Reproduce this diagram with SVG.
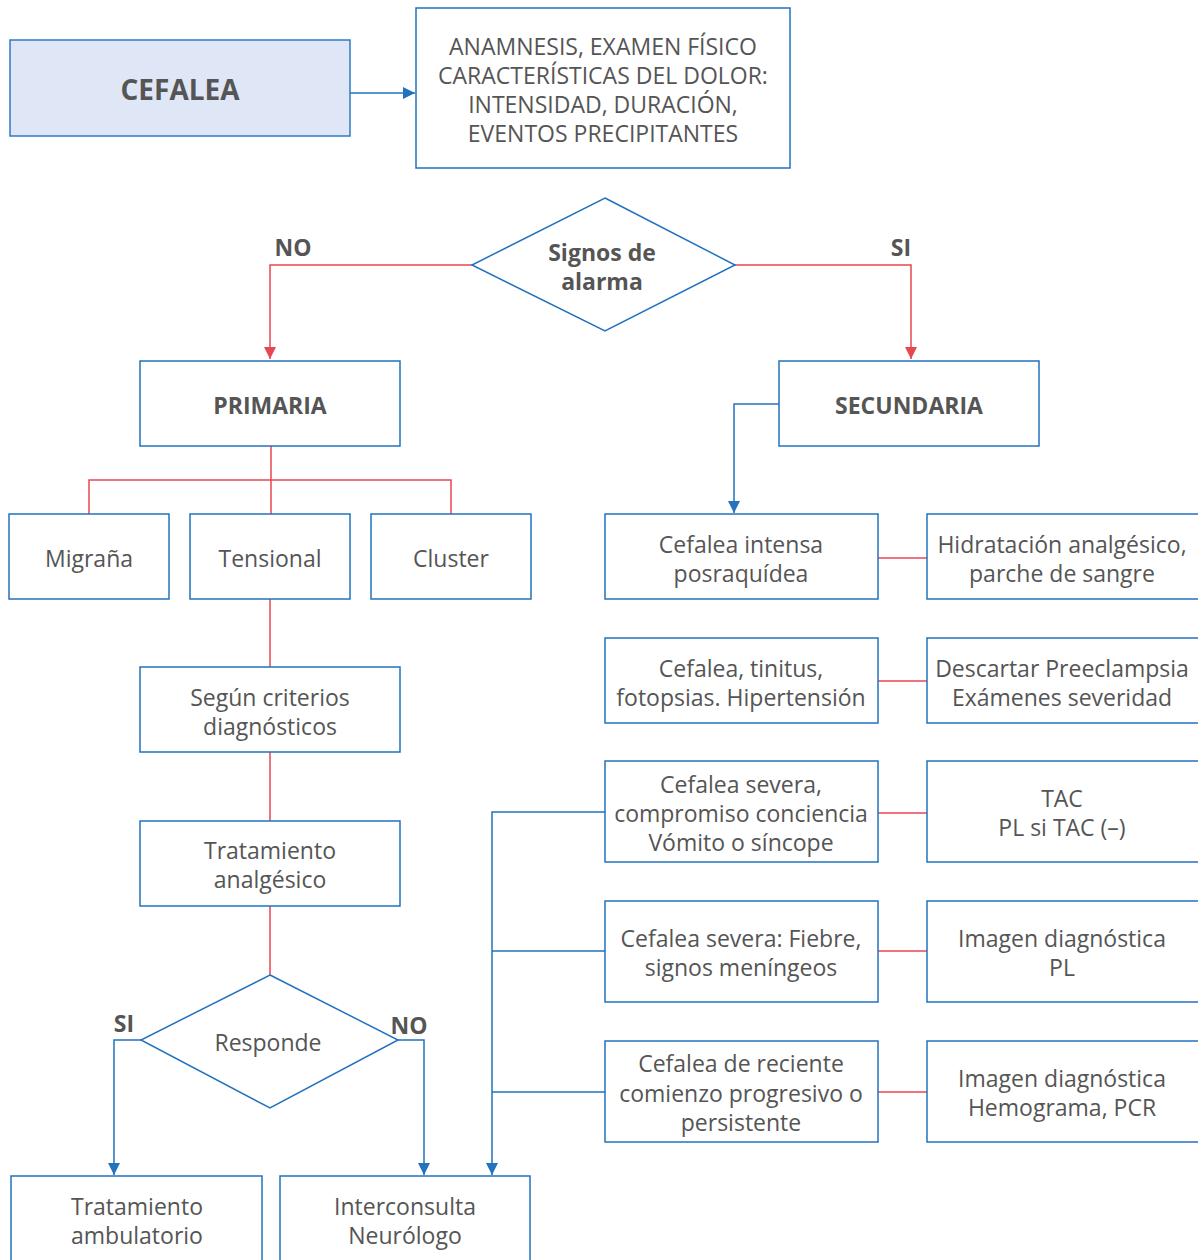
<svg xmlns="http://www.w3.org/2000/svg" width="1198" height="1260" viewBox="0 0 1198 1260">
  <defs>
    <style>
      .box { fill: #ffffff; stroke: #2272be; stroke-width: 1.5; }
      .main { fill: #dfe6f5; stroke: #2f7bc2; stroke-width: 1.5; }
      .dia { fill: #ffffff; stroke: #2272be; stroke-width: 1.5; }
      .blue { fill: none; stroke: #2272be; stroke-width: 1.5; }
      .red { fill: none; stroke: #e8474f; stroke-width: 1.5; }
      text { font-family: "Open Sans", "Noto Sans", "Liberation Sans", sans-serif; fill: #555555; text-anchor: middle; dominant-baseline: central; }
      .t { font-size: 23px; font-weight: 400; }
      .b { font-size: 23px; font-weight: 700; }
      .big { font-size: 28px; font-weight: 700; }
    </style>
    <marker id="ab" viewBox="0 0 12 12" refX="12" refY="6" markerWidth="12" markerHeight="12" markerUnits="userSpaceOnUse" orient="auto">
      <path d="M0,0 L12,6 L0,12 z" fill="#2272be"/>
    </marker>
    <marker id="ar" viewBox="0 0 12 12" refX="12" refY="6" markerWidth="12" markerHeight="12" markerUnits="userSpaceOnUse" orient="auto">
      <path d="M0,0 L12,6 L0,12 z" fill="#e8474f"/>
    </marker>
  </defs>
  <rect width="1198" height="1260" fill="#ffffff"/>

  <!-- connectors -->
  <g id="connectors">
    <path class="blue" d="M350,93 H415" marker-end="url(#ab)"/>
    <path class="red" d="M472,265 H270 V359" marker-end="url(#ar)"/>
    <path class="red" d="M735,265 H911 V359" marker-end="url(#ar)"/>
    <path class="red" d="M271,446 V514 M89,514 V480 H451 V514"/>
    <path class="red" d="M270,599 V667 M270,752 V821 M270,906 V975"/>
    <path class="blue" d="M141,1040 H114 V1175" marker-end="url(#ab)"/>
    <path class="blue" d="M398,1040 H424 V1175" marker-end="url(#ab)"/>
    <path class="blue" d="M779,404 H734 V513" marker-end="url(#ab)"/>
    <path class="blue" d="M605,812 H492 V1175" marker-end="url(#ab)"/>
    <path class="blue" d="M492,951 H605 M492,1092 H605"/>
    <path class="red" d="M878,558 H927 M878,681 H927 M878,813 H927 M878,951 H927 M878,1092 H927"/>
  </g>

  <!-- top -->
  <g id="cefalea">
    <rect class="main" x="10" y="40" width="340" height="96"/>
    <text class="big" x="180" y="89">CEFALEA</text>
  </g>
  <g id="anamnesis">
    <rect class="box" x="416" y="8" width="374" height="160"/>
    <text class="t" x="603" y="46">ANAMNESIS, EXAMEN FÍSICO</text>
    <text class="t" x="603" y="75">CARACTERÍSTICAS DEL DOLOR:</text>
    <text class="t" x="603" y="104">INTENSIDAD, DURACIÓN,</text>
    <text class="t" x="603" y="133">EVENTOS PRECIPITANTES</text>
  </g>
  <g id="signos">
    <polygon class="dia" points="605,198 735,265 605,331 472,265"/>
    <text class="b" x="602" y="252">Signos de</text>
    <text class="b" x="602" y="281">alarma</text>
  </g>
  <g id="labels-alarma">
    <text class="b" x="293" y="247">NO</text>
    <text class="b" x="901" y="247">SI</text>
  </g>

  <!-- primary branch -->
  <g id="primaria">
    <rect class="box" x="140" y="361" width="260" height="85"/>
    <text class="b" x="270" y="405">PRIMARIA</text>
  </g>
  <g id="migrana">
    <rect class="box" x="9" y="514" width="160" height="85"/>
    <text class="t" x="89" y="558">Migraña</text>
  </g>
  <g id="tensional">
    <rect class="box" x="190" y="514" width="160" height="85"/>
    <text class="t" x="270" y="558">Tensional</text>
  </g>
  <g id="cluster">
    <rect class="box" x="371" y="514" width="160" height="85"/>
    <text class="t" x="451" y="558">Cluster</text>
  </g>
  <g id="criterios">
    <rect class="box" x="140" y="667" width="260" height="85"/>
    <text class="t" x="270" y="697">Según criterios</text>
    <text class="t" x="270" y="726">diagnósticos</text>
  </g>
  <g id="analgesico">
    <rect class="box" x="140" y="821" width="260" height="85"/>
    <text class="t" x="270" y="850">Tratamiento</text>
    <text class="t" x="270" y="879">analgésico</text>
  </g>
  <g id="responde">
    <polygon class="dia" points="270,975 398,1040 270,1108 141,1040"/>
    <text class="t" x="268" y="1042">Responde</text>
  </g>
  <g id="labels-responde">
    <text class="b" x="124" y="1023">SI</text>
    <text class="b" x="409" y="1025">NO</text>
  </g>
  <g id="ambulatorio">
    <rect class="box" x="11" y="1176" width="251" height="100"/>
    <text class="t" x="137" y="1206">Tratamiento</text>
    <text class="t" x="137" y="1235">ambulatorio</text>
  </g>
  <g id="neurologo">
    <rect class="box" x="280" y="1176" width="250" height="100"/>
    <text class="t" x="405" y="1206">Interconsulta</text>
    <text class="t" x="405" y="1235">Neurólogo</text>
  </g>

  <!-- secondary branch -->
  <g id="secundaria">
    <rect class="box" x="779" y="361" width="260" height="85"/>
    <text class="b" x="909" y="405">SECUNDARIA</text>
  </g>
  <g id="posraquidea">
    <rect class="box" x="605" y="514" width="273" height="85"/>
    <text class="t" x="741" y="544">Cefalea intensa</text>
    <text class="t" x="741" y="573">posraquídea</text>
  </g>
  <g id="hidratacion">
    <rect class="box" x="927" y="514" width="290" height="85"/>
    <text class="t" x="1062" y="544">Hidratación analgésico,</text>
    <text class="t" x="1062" y="573">parche de sangre</text>
  </g>
  <g id="tinitus">
    <rect class="box" x="605" y="638" width="273" height="85"/>
    <text class="t" x="741" y="668">Cefalea, tinitus,</text>
    <text class="t" x="741" y="697">fotopsias. Hipertensión</text>
  </g>
  <g id="preeclampsia">
    <rect class="box" x="927" y="638" width="290" height="85"/>
    <text class="t" x="1062" y="668">Descartar Preeclampsia</text>
    <text class="t" x="1062" y="697">Exámenes severidad</text>
  </g>
  <g id="conciencia">
    <rect class="box" x="605" y="761" width="273" height="101"/>
    <text class="t" x="741" y="784">Cefalea severa,</text>
    <text class="t" x="741" y="813">compromiso conciencia</text>
    <text class="t" x="741" y="842">Vómito o síncope</text>
  </g>
  <g id="tac">
    <rect class="box" x="927" y="761" width="290" height="101"/>
    <text class="t" x="1062" y="798">TAC</text>
    <text class="t" x="1062" y="827">PL si TAC (–)</text>
  </g>
  <g id="fiebre">
    <rect class="box" x="605" y="901" width="273" height="101"/>
    <text class="t" x="741" y="938">Cefalea severa: Fiebre,</text>
    <text class="t" x="741" y="967">signos meníngeos</text>
  </g>
  <g id="imagen-pl">
    <rect class="box" x="927" y="901" width="290" height="101"/>
    <text class="t" x="1062" y="938">Imagen diagnóstica</text>
    <text class="t" x="1062" y="967">PL</text>
  </g>
  <g id="reciente">
    <rect class="box" x="605" y="1041" width="273" height="101"/>
    <text class="t" x="741" y="1063">Cefalea de reciente</text>
    <text class="t" x="741" y="1093">comienzo progresivo o</text>
    <text class="t" x="741" y="1122">persistente</text>
  </g>
  <g id="imagen-pcr">
    <rect class="box" x="927" y="1041" width="290" height="101"/>
    <text class="t" x="1062" y="1078">Imagen diagnóstica</text>
    <text class="t" x="1062" y="1107">Hemograma, PCR</text>
  </g>
</svg>
